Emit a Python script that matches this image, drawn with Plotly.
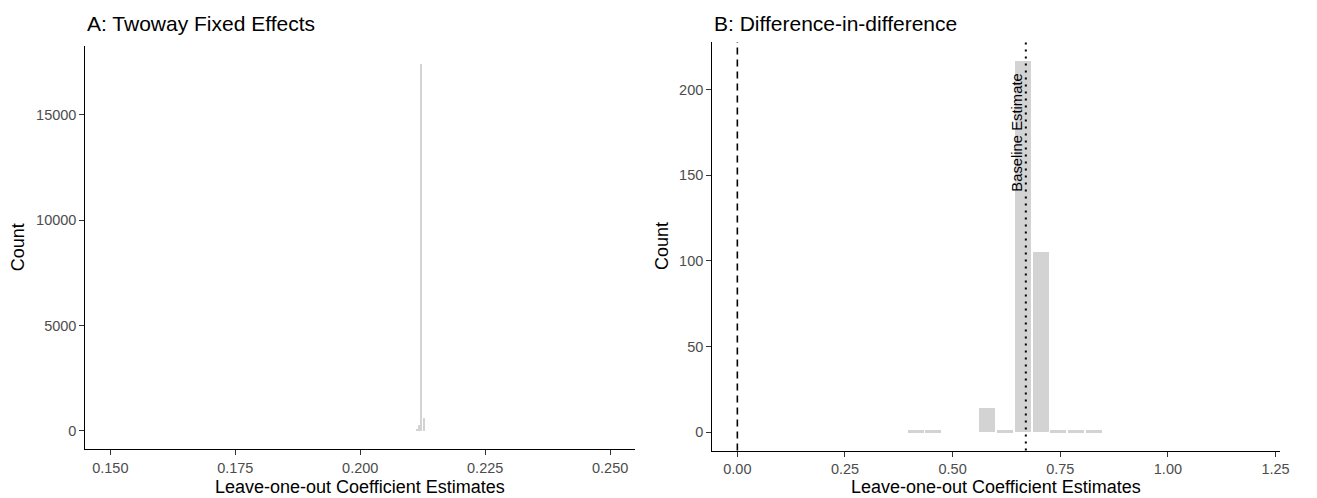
import plotly.graph_objects as go

# ---- Data ----
# Panel A: Twoway fixed effects, leave-one-out estimates (histogram bins)
a_bin_centers = [0.2115, 0.2119, 0.2122, 0.2128]
a_counts = [70, 280, 17400, 620]

# Panel B: Difference-in-difference, leave-one-out estimates (histogram bins)
b_bin_centers = [0.415, 0.456, 0.497, 0.539, 0.581, 0.622, 0.663, 0.705, 0.746, 0.787, 0.828]
b_counts = [1, 1, 0, 0, 14, 1, 217, 105, 1, 1, 1]
b_baseline = 0.670
b_zero = 0.0

a_xticks = [0.150, 0.175, 0.200, 0.225, 0.250]
a_xtick_labels = ["0.150", "0.175", "0.200", "0.225", "0.250"]
a_yticks = [0, 5000, 10000, 15000]
a_ytick_labels = ["0", "5000", "10000", "15000"]
b_xticks = [0.0, 0.25, 0.5, 0.75, 1.0, 1.25]
b_xtick_labels = ["0.00", "0.25", "0.50", "0.75", "1.00", "1.25"]
b_yticks = [0, 50, 100, 150, 200]
b_ytick_labels = ["0", "50", "100", "150", "200"]

# ---- Styling ----
W, H = 1317, 498
FONT = "Liberation Sans, Arial, sans-serif"
BAR = "#D3D3D3"
a_widths = [0.0002, 0.0002, 0.00045, 0.0003]
b_width = 0.0374

fig = go.Figure()
fig.add_trace(go.Bar(x=a_bin_centers, y=a_counts, width=a_widths,
                     marker=dict(color=BAR, line=dict(width=0)),
                     xaxis="x", yaxis="y", showlegend=False))
fig.add_trace(go.Bar(x=b_bin_centers, y=b_counts, width=b_width,
                     marker=dict(color=BAR, line=dict(width=0)),
                     xaxis="x2", yaxis="y2", showlegend=False))

def px_x(p):
    return p / W

def px_y(p):
    return 1 - p / H

axis_common = dict(showline=True, linecolor="black", linewidth=1.1,
                   ticks="outside", ticklen=5, tickwidth=1.1, tickcolor="#333333",
                   showgrid=False, zeroline=False,
                   tickfont=dict(family=FONT, size=14.5, color="#4D4D4D"))

fig.update_layout(
    width=W, height=H,
    margin=dict(l=0, r=0, t=0, b=0),
    paper_bgcolor="white", plot_bgcolor="white",
    bargap=0,
    xaxis=dict(domain=[px_x(86), px_x(640)], range=[0.145, 0.255],
               tickvals=a_xticks, ticktext=a_xtick_labels, anchor="y", **axis_common),
    yaxis=dict(domain=[px_y(449.3), px_y(46)], range=[-870, 18270],
               tickvals=a_yticks, ticktext=a_ytick_labels, anchor="x", **axis_common),
    xaxis2=dict(domain=[px_x(717.7), px_x(1289.3)], range=[-0.0583, 1.2592],
                tickvals=b_xticks, ticktext=b_xtick_labels, anchor="y2", **axis_common),
    yaxis2=dict(domain=[px_y(450.6), px_y(42)], range=[-10.85, 227.85],
                tickvals=b_yticks, ticktext=b_ytick_labels, anchor="x2", **axis_common),
)

# reference lines in panel B
fig.add_shape(type="line", xref="x2", yref="y2 domain", x0=b_zero, x1=b_zero, y0=0, y1=1,
              line=dict(color="black", width=1.6, dash="7px,5px"))
fig.add_shape(type="line", xref="x2", yref="y2 domain", x0=b_baseline, x1=b_baseline, y0=0, y1=1,
              line=dict(color="black", width=2, dash="2px,5px"))
fig.add_annotation(x=b_baseline - 0.02, y=175, xref="x2", yref="y2", text="Baseline Estimate",
                   textangle=-90, showarrow=False,
                   font=dict(family=FONT, size=14.8, color="black"))

# titles
for txt, x in [("A: Twoway Fixed Effects", 86), ("B: Difference-in-difference", 717.7)]:
    fig.add_annotation(x=px_x(x), y=px_y(23), xref="paper", yref="paper", text=txt,
                       xanchor="left", yanchor="middle", showarrow=False,
                       font=dict(family=FONT, size=21, color="black"))

# axis titles
for x_c in [(86 + 640) / 2, (717.7 + 1289.3) / 2]:
    fig.add_annotation(x=px_x(x_c), y=px_y(487), xref="paper", yref="paper",
                       text="Leave-one-out Coefficient Estimates",
                       xanchor="center", yanchor="middle", showarrow=False,
                       font=dict(family=FONT, size=18, color="black"))
for x_c, y_c in [(19, 247.5), (667, 246)]:
    fig.add_annotation(x=px_x(x_c), y=px_y(y_c), xref="paper", yref="paper", text="Count",
                       textangle=-90, xanchor="center", yanchor="middle", showarrow=False,
                       font=dict(family=FONT, size=18, color="black"))

fig.write_html("out.html")
